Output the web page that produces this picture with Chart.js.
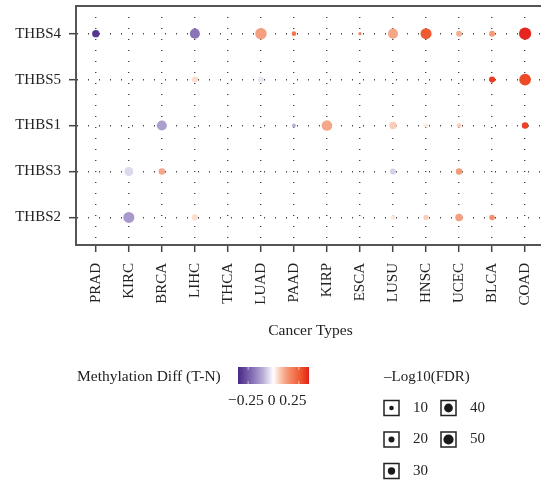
<!DOCTYPE html>
<html lang="en">
<head>
<meta charset="UTF-8">
<title>THBS methylation by cancer type</title>
<script src="https://cdn.jsdelivr.net/npm/chart.js@4"></script>
<style>
  html, body { margin: 0; padding: 0; background: #fff; overflow: hidden; }
  #wrap { width: 551px; height: 481px; }
</style>
</head>
<body>
<div id="wrap"><canvas id="dotChart" width="551" height="481"></canvas></div>
<script>
const cancerTypes = ['PRAD', 'KIRC', 'BRCA', 'LIHC', 'THCA', 'LUAD', 'PAAD', 'KIRP', 'ESCA', 'LUSU', 'HNSC', 'UCEC', 'BLCA', 'COAD'];
// rows from bottom to top
const genes = ['THBS2', 'THBS3', 'THBS1', 'THBS5', 'THBS4'];

// methylation difference (tumour - normal), null where nothing is drawn
const thbs2Diff = [null, -0.14, null, 0.04, null, null, null, null, null, 0.03, 0.06, 0.12, 0.15, null];
const thbs3Diff = [null, -0.05, 0.11, null, null, null, null, null, null, -0.06, null, 0.13, null, null];
const thbs1Diff = [null, null, -0.13, null, null, null, -0.1, 0.11, null, 0.06, 0.03, 0.06, null, 0.3];
const thbs5Diff = [null, null, null, 0.04, null, -0.03, null, null, null, null, null, null, 0.31, 0.29];
const thbs4Diff = [-0.32, null, null, -0.2, null, 0.12, 0.2, null, 0.18, 0.11, 0.26, 0.1, 0.13, 0.34];

// -log10(FDR)
const thbs2Fdr = [null, 56, null, 21, null, null, null, null, null, 11, 14, 31, 17, null];
const thbs3Fdr = [null, 41, 24, null, null, null, null, null, null, 21, null, 24, null, null];
const thbs1Fdr = [null, null, 49, null, null, null, 6, 53, null, 30, 6, 10, null, 24];
const thbs5Fdr = [null, null, null, 20, null, 20, null, null, null, null, null, null, 21, 61];
const thbs4Fdr = [30, null, null, 49, null, 59, 10, null, 0, 49, 56, 20, 20, 64];

const diffByGene = [thbs2Diff, thbs3Diff, thbs1Diff, thbs5Diff, thbs4Diff];
const fdrByGene = [thbs2Fdr, thbs3Fdr, thbs1Fdr, thbs5Fdr, thbs4Fdr];

const sizeBreaks = [10, 20, 30, 40, 50];
const colorTicks = [-0.25, 0, 0.25];
const colorLimits = [-0.35, 0.35];

// purple - white - red ramp
const colorStops = [
    [-0.35, [74, 40, 136]],
    [-0.2, [138, 116, 184]],
    [-0.1, [188, 176, 216]],
    [0, [255, 255, 255]],
    [0.05, [252, 213, 194]],
    [0.12, [244, 160, 128]],
    [0.2, [242, 118, 80]],
    [0.28, [238, 80, 40]],
    [0.35, [228, 30, 28]]
];

const FONT = '"Liberation Serif", "DejaVu Serif", serif';

function diffColor(v) {
    if (v <= colorStops[0][0]) return rgb(colorStops[0][1]);
    for (let i = 1; i < colorStops.length; i++) {
        const [v1, c1] = colorStops[i];
        if (v <= v1) {
            const [v0, c0] = colorStops[i - 1];
            const t = (v - v0) / (v1 - v0);
            return rgb(c0.map((c, k) => c + (c1[k] - c) * t));
        }
    }
    return rgb(colorStops[colorStops.length - 1][1]);
}

function rgb(c) {
    return `rgb(${c.map(Math.round).join(',')})`;
}

function dotRadius(fdr) {
    return 1.6 + fdr * 0.07;
}

const datasets = genes.map((gene, row) => ({
    label: gene,
    data: cancerTypes
        .map((type, col) => diffByGene[row][col] === null ? null : {
            x: col,
            y: row,
            r: dotRadius(fdrByGene[row][col]),
            diff: diffByGene[row][col]
        })
        .filter(p => p !== null),
    backgroundColor: ctx => diffColor(ctx.raw.diff),
    borderWidth: 0
}));

// top frame line plus the two legends under the axis
const decorations = {
    id: 'decorations',
    afterDraw(chart) {
        const { ctx, chartArea } = chart;
        ctx.save();
        ctx.strokeStyle = '#555';
        ctx.lineWidth = 2;
        ctx.beginPath();
        ctx.moveTo(chartArea.left, chartArea.top);
        ctx.lineTo(chartArea.right, chartArea.top);
        ctx.stroke();

        ctx.fillStyle = '#222';
        ctx.font = `15.5px ${FONT}`;
        ctx.textBaseline = 'middle';
        ctx.textAlign = 'left';
        ctx.fillText('Methylation Diff (T-N)', 77, 377);

        // colour bar
        const barX = 238, barY = 367, barW = 71, barH = 17;
        const grad = ctx.createLinearGradient(barX, 0, barX + barW, 0);
        const span = colorLimits[1] - colorLimits[0];
        colorStops.forEach(([v, c]) => grad.addColorStop((v - colorLimits[0]) / span, rgb(c)));
        ctx.fillStyle = grad;
        ctx.fillRect(barX, barY, barW, barH);
        ctx.strokeStyle = 'rgba(255,255,255,0.6)';
        ctx.lineWidth = 1;
        colorTicks.forEach(v => {
            const tx = barX + (v - colorLimits[0]) / span * barW;
            ctx.beginPath();
            ctx.moveTo(tx, barY); ctx.lineTo(tx, barY + 3);
            ctx.moveTo(tx, barY + barH - 3); ctx.lineTo(tx, barY + barH);
            ctx.stroke();
        });
        ctx.fillStyle = '#222';
        ctx.fillText(colorTicks.map(v => String(v).replace('-', '\u2212')).join(' '), 228, 401);

        // size legend
        ctx.font = `15px ${FONT}`;
        ctx.fillText('\u2013Log10(FDR)', 384, 377);
        sizeBreaks.forEach((b, i) => {
            const col = Math.floor(i / 3), row = i % 3;
            const bx = 384 + col * 57, cy = 408 + row * 31.5;
            ctx.fillStyle = '#fff';
            ctx.fillRect(bx, cy - 7.5, 15, 15);
            ctx.strokeStyle = '#222';
            ctx.lineWidth = 1.5;
            ctx.strokeRect(bx, cy - 7.5, 15, 15);
            ctx.fillStyle = '#1a1a1a';
            ctx.beginPath();
            ctx.arc(bx + 7.5, cy, dotRadius(b), 0, Math.PI * 2);
            ctx.fill();
            ctx.fillStyle = '#222';
            ctx.fillText(String(b), bx + 29, cy);
        });
        ctx.restore();
    }
};

const gridStyle = {
    color: '#444',
    lineWidth: 1.4,
    tickLength: 7,
    tickWidth: 1.5,
    tickColor: '#444',
    tickBorderDash: []
};

new Chart(document.getElementById('dotChart'), {
    type: 'bubble',
    data: { datasets },
    options: {
        responsive: false,
        animation: false,
        layout: { padding: { top: 6, right: 0, bottom: 138, left: 0 } },
        plugins: {
            legend: { display: false },
            tooltip: { enabled: false }
        },
        scales: {
            x: {
                type: 'linear',
                min: -0.6,
                max: 13.6,
                afterBuildTicks: scale => {
                    scale.ticks = cancerTypes.map((c, i) => ({ value: i }));
                },
                afterFit: scale => {
                    scale.height = 98;
                    scale.paddingLeft = 0;
                    scale.paddingRight = 0;
                },
                ticks: {
                    autoSkip: false,
                    maxRotation: 90,
                    minRotation: 90,
                    padding: 11,
                    color: '#222',
                    font: { family: FONT, size: 15 },
                    callback: v => cancerTypes[v]
                },
                grid: gridStyle,
                border: { display: true, color: '#555', width: 2, dash: [1, 10] },
                title: {
                    display: true,
                    text: 'Cancer Types',
                    color: '#222',
                    font: { family: FONT, size: 15.5 },
                    padding: { top: 4, bottom: 3 }
                }
            },
            y: {
                type: 'linear',
                min: -0.6,
                max: 4.6,
                afterBuildTicks: scale => {
                    scale.ticks = genes.map((g, i) => ({ value: i }));
                },
                afterFit: scale => {
                    scale.width = 76;
                    scale.paddingTop = 0;
                    scale.paddingBottom = 0;
                },
                ticks: {
                    padding: 8,
                    color: '#222',
                    font: { family: FONT, size: 15 },
                    callback: v => genes[v]
                },
                grid: gridStyle,
                border: { display: true, color: '#555', width: 2, dash: [1, 10] }
            }
        }
    },
    plugins: [decorations]
});
</script>
</body>
</html>
